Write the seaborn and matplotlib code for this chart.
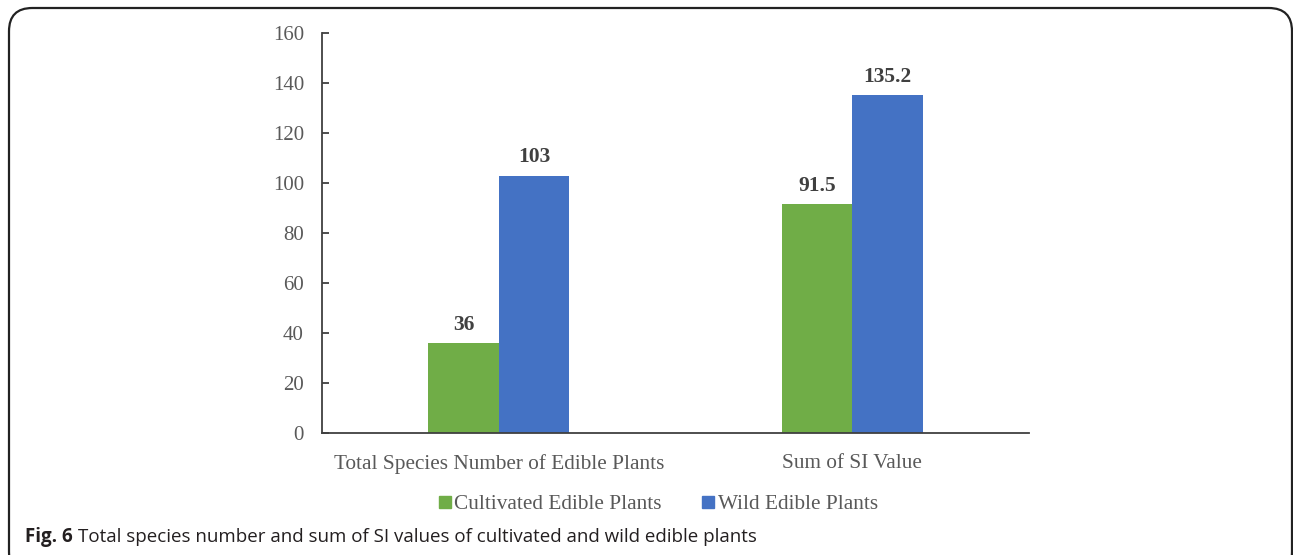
import matplotlib
matplotlib.use("Agg")
import matplotlib.pyplot as plt
from matplotlib.patches import FancyBboxPatch
from matplotlib.lines import Line2D
import seaborn as sns
import pandas as pd

# Data
categories = ["Total Species Number of Edible Plants", "Sum of SI Value"]
groups = ["Cultivated Edible Plants", "Wild Edible Plants"]
cultivated = [36, 91.5]
wild = [103, 135.2]
value_labels_cultivated = ["36", "91.5"]
value_labels_wild = ["103", "135.2"]
y_ticks = [0, 20, 40, 60, 80, 100, 120, 140, 160]

colors = {"Cultivated Edible Plants": "#70AD47", "Wild Edible Plants": "#4472C4"}

df = pd.DataFrame({
    "category": categories * 2,
    "group": [groups[0]] * 2 + [groups[1]] * 2,
    "value": cultivated + wild,
})

sns.set_theme(style="white")
plt.rcParams["font.family"] = ["Liberation Serif", "DejaVu Serif"]

fig = plt.figure(figsize=(12.93, 5.55), dpi=100)
ax = fig.add_axes([322 / 1293, 1 - 433 / 555, 707 / 1293, 400 / 555])

sns.barplot(data=df, x="category", y="value", hue="group", order=categories,
            hue_order=groups, palette=colors, width=0.4, gap=0,
            saturation=1, errorbar=None, ax=ax, legend=False, linewidth=0)

for cont, labels in zip(ax.containers, [value_labels_cultivated, value_labels_wild]):
    ax.bar_label(cont, labels=labels, padding=6, fontsize=15.5,
                 fontweight="bold", color="#404040")

ax.set_ylim(0, 160)
ax.set_yticks(y_ticks)
ax.set_xlim(-0.5, 1.5)
ax.set_xlabel("")
ax.set_ylabel("")
for s in ["top", "right"]:
    ax.spines[s].set_visible(False)
for s in ["left", "bottom"]:
    ax.spines[s].set_color("#404040")
    ax.spines[s].set_linewidth(1.3)
ax.tick_params(axis="y", direction="in", length=5, width=1.3, color="#404040",
               left=True, pad=13, labelsize=15, labelcolor="#595959")
ax.tick_params(axis="x", bottom=False, pad=9, labelsize=15.3, labelcolor="#595959")

handles = [Line2D([0], [0], marker="s", linestyle="none", markersize=8,
                  markerfacecolor=colors[g], markeredgecolor=colors[g]) for g in groups]
fig.legend(handles, groups, loc="center", bbox_to_anchor=(657 / 1293, 1 - 504 / 555),
           ncol=2, frameon=False, fontsize=15.3, handletextpad=0.05,
           columnspacing=1.8, handlelength=0.8, labelcolor="#595959",
           borderpad=0, borderaxespad=0)

# Caption
cap_font = ["Open Sans", "DejaVu Sans"]
cap1 = fig.text(25 / 1293, 1 - 537 / 555, "Fig. 6", fontsize=13.5, fontweight="bold",
                family=cap_font, color="#231f20", va="center")
fig.canvas.draw()
bb = cap1.get_window_extent()
fig.text(bb.x1 / 1293 + 5 / 1293, 1 - 537 / 555,
         "Total species number and sum of SI values of cultivated and wild edible plants",
         fontsize=13.5, family=cap_font, color="#231f20", va="center")

# Rounded frame around the panel
frame = FancyBboxPatch((9 / 1293, -20 / 555), 1283 / 1293, (555 - 8 + 20) / 555,
                       boxstyle="round,pad=0,rounding_size=0.018",
                       transform=fig.transFigure, fill=False, edgecolor="#222222",
                       linewidth=1.6, mutation_aspect=1293 / 555)
fig.patches.append(frame)

fig.savefig("out.png", dpi=100)
